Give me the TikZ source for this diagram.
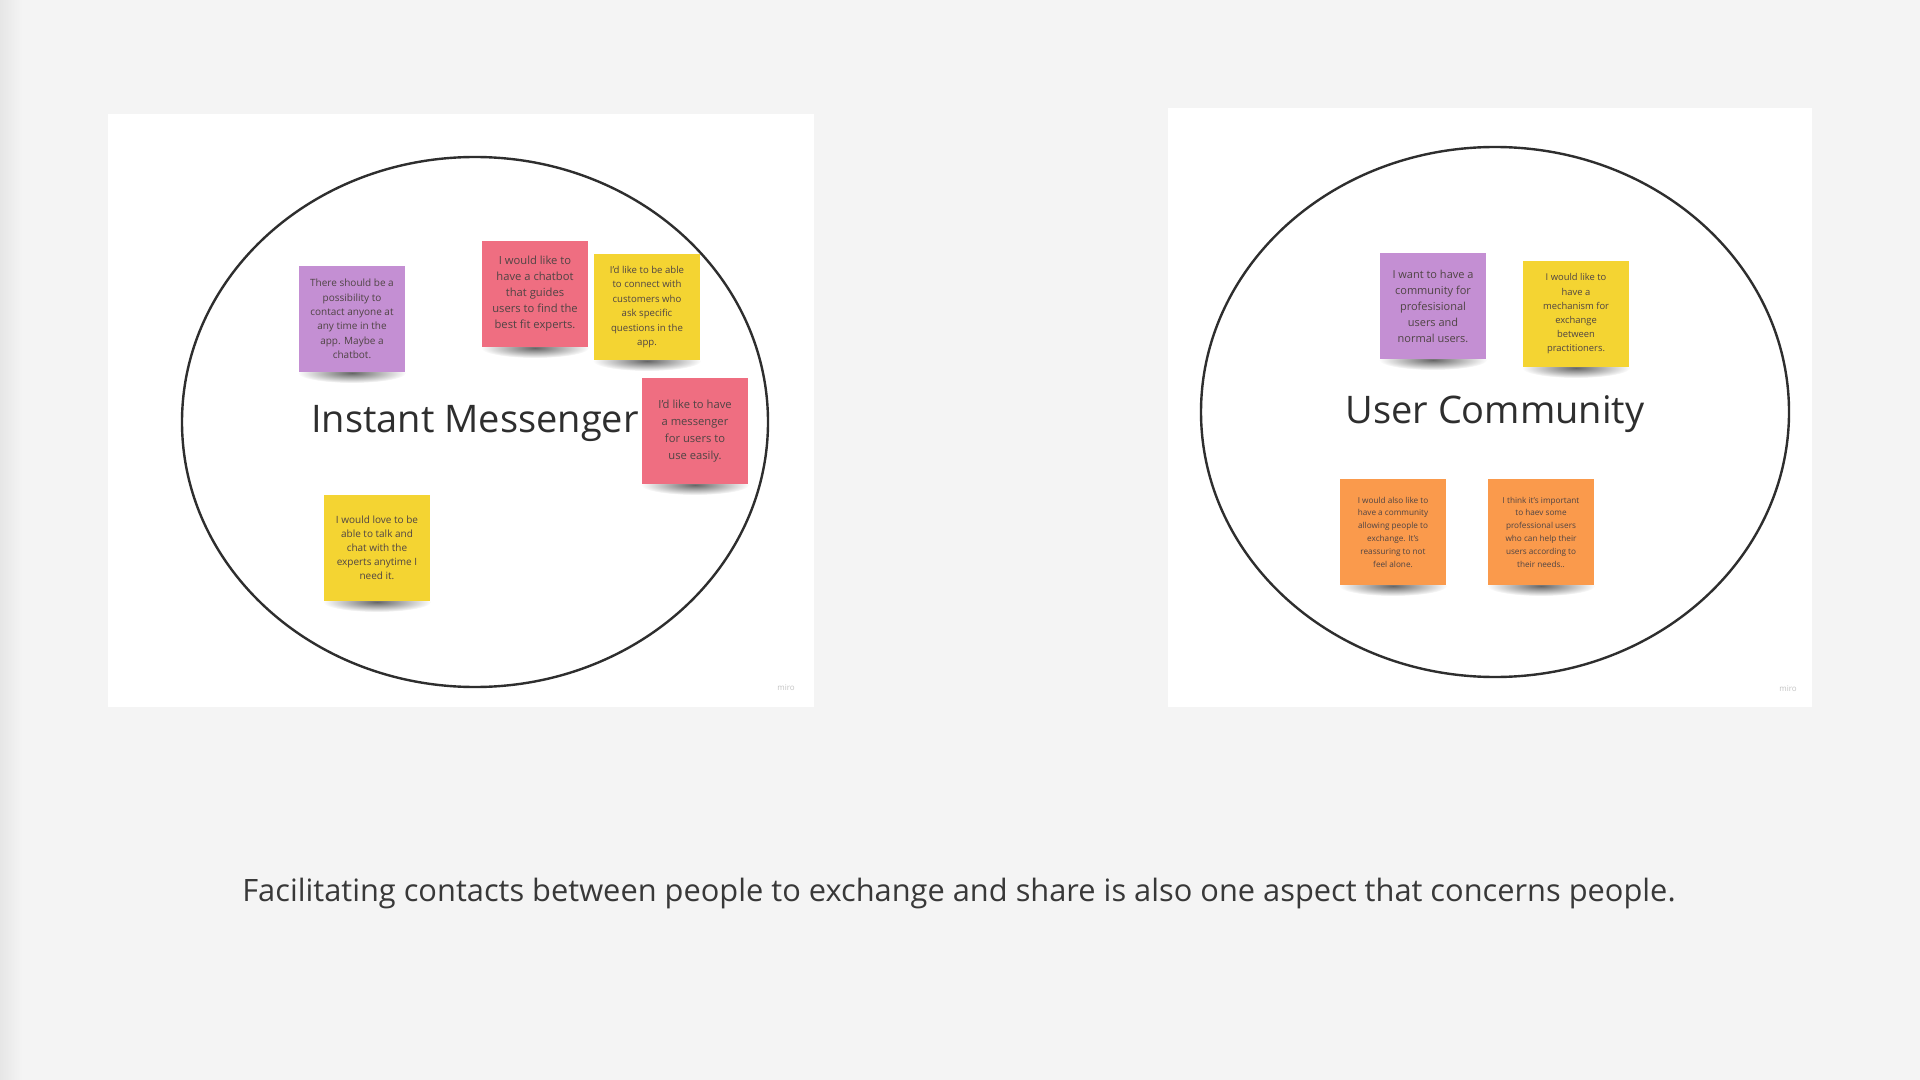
\documentclass[tikz,border=0pt]{standalone}
\usepackage{fontspec}
\setmainfont{Open Sans}
\usetikzlibrary{fadings}

\definecolor{paper}{HTML}{F4F4F4}
\definecolor{paperedge}{HTML}{E6E6E6}
\definecolor{ink}{HTML}{2E2E2E}
\definecolor{captionink}{HTML}{383838}
\definecolor{notetext}{HTML}{4F4444}
\definecolor{stickypurple}{HTML}{C48FD3}
\definecolor{stickypink}{HTML}{EF6E81}
\definecolor{stickyyellow}{HTML}{F4D432}
\definecolor{stickyorange}{HTML}{FA9A4C}
\definecolor{brand}{HTML}{C4C4C4}

% radial soft spot used for the shadows under the notes
\tikzfading[name=softspot, inner color=transparent!0, outer color=transparent!100]

% sticky note with a soft shadow under its lower edge
% #1 name, #2 x, #3 y, #4 colour, #5 font size, #6 line skip, #7 text
\newcommand\sticky[7]{%
  \fill[black,opacity=.6,path fading=softspot] (#2,#3+54) ellipse [x radius=54, y radius=10];
  \node[stickynote, fill=#4, font=\fontsize{#5}{#6}\selectfont] (#1) at (#2,#3) {#7};
}

\begin{document}
\begin{tikzpicture}[x=0.5pt,y=-0.5pt,
  stickynote/.style={minimum width=53pt, minimum height=53pt, inner sep=1pt,
    align=center, text=notetext},
  panel/.style={fill=white},
  ring/.style={draw=ink, line width=1.2pt},
  title/.style={text=ink, font=\fontsize{19}{22}\selectfont},
  brandmark/.style={text=brand, font=\fontsize{4}{5}\selectfont}]

% paper background
\fill[paper] (0,0) rectangle (1920,1080);
\shade[left color=paperedge, right color=paper] (0,0) rectangle (22,1080);
\useasboundingbox (0,0) rectangle (1920,1080);

% ---------------- left board ----------------
\fill[panel] (108,114) rectangle (814,707);
\draw[ring] (475,422) ellipse [x radius=293, y radius=265];
\node[brandmark] (mirol) at (786,688) {miro};

\sticky{wish1}{352}{319}{stickypurple}{5}{7.2}{There should be a\\possibility to\\contact anyone at\\any time in the\\app. Maybe a\\chatbot.}
\sticky{wish2}{535}{294}{stickypink}{5.6}{8}{I would like to\\have a chatbot\\that guides\\users to find the\\best fit experts.}
\sticky{wish3}{647}{307}{stickyyellow}{4.8}{7.2}{I'd like to be able\\to connect with\\customers who\\ask specific\\questions in the\\app.}
\sticky{wish4}{695}{431}{stickypink}{5.6}{8.4}{I'd like to have\\a messenger\\for users to\\use easily.}
\sticky{wish5}{377}{548}{stickyyellow}{5}{7}{I would love to be\\able to talk and\\chat with the\\experts anytime I\\need it.}

\node[title] (im) at (475,424) {Instant Messenger};

% ---------------- right board ----------------
\fill[panel] (1168,108) rectangle (1812,707);
\draw[ring] (1495,412) ellipse [x radius=294, y radius=265];
\node[brandmark] (miror) at (1788,689) {miro};

\sticky{need1}{1433}{306}{stickypurple}{5.5}{8}{I want to have a\\community for\\profesisional\\users and\\normal users.}
\sticky{need2}{1576}{314}{stickyyellow}{4.7}{7.1}{I would like to\\have a\\mechanism for\\exchange\\between\\practitioners.}
\sticky{need3}{1393}{532}{stickyorange}{4.1}{6.4}{I would also like to\\have a community\\allowing people to\\exchange. It's\\reassuring to not\\feel alone.}
\sticky{need4}{1541}{532}{stickyorange}{4.1}{6.4}{I think it's important\\to haev some\\professional users\\who can help their\\users according to\\their needs..}

\node[title] (uc) at (1495,414) {User Community};

% ---------------- caption ----------------
\node[text=captionink, font=\fontsize{15.4}{18}\selectfont] (caption) at (959,893)
  {Facilitating contacts between people to exchange and share is also one aspect that concerns people.};
\end{tikzpicture}
\end{document}
